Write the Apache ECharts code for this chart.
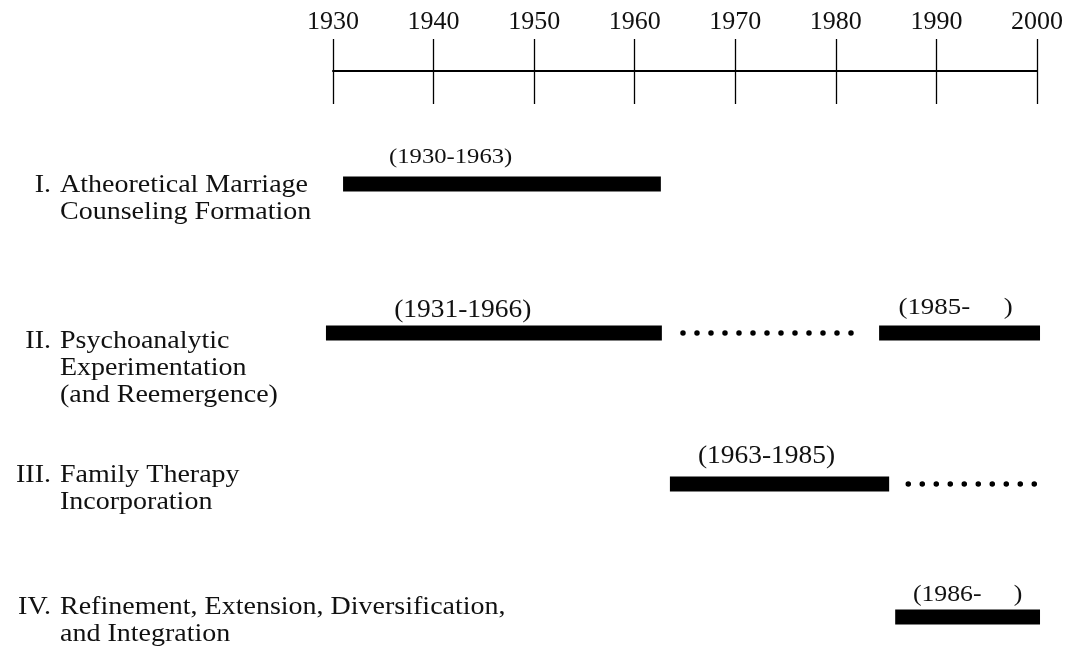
<!DOCTYPE html>
<html><head><meta charset="utf-8">
<script src="https://cdn.jsdelivr.net/npm/echarts/dist/echarts.min.js"></script>
<style>html,body{margin:0;padding:0;background:#fff}#c{width:1070px;height:649px}</style>
</head><body><div id="c"></div>
<script>
// ---- data ----
const stageNumerals = ['I.', 'II.', 'III.', 'IV.'];
const stageNames = [
  'Atheoretical Marriage\nCounseling Formation',
  'Psychoanalytic\nExperimentation\n(and Reemergence)',
  'Family Therapy\nIncorporation',
  'Refinement, Extension, Diversification,\nand Integration'
];
const segStage = [0, 1, 1, 1, 2, 2, 3];
const segStart = [1931.0, 1929.3, 1964.8, 1984.3, 1963.5, 1987.2, 1985.9];
const segEnd   = [1962.6, 1962.7, 1982.6, 2000.3, 1985.3, 2000.0, 2000.3];
const segKind  = ['solid', 'solid', 'dotted', 'solid', 'solid', 'dotted', 'solid'];
const segLabel = ['(1930-1963)', '(1931-1966)', '', '(1985-     )', '(1963-1985)', '', '(1986-     )'];
const segLabelYear = [1941.7, 1942.9, null, 1991.9, 1973.1, null, 1993.1];
const axisMin = 1930, axisMax = 2000, axisStep = 10;

// ---- layout / style ----
const FONT = '"Liberation Serif", "Times New Roman", serif';
const SX = 1.12;
const rowNudge = [0, 4.7, 11.3, 0];
const labelLift = [27, 22, 0, 25, 27, 0, 22];
const labelSize = [22, 24.5, 0, 24, 24.5, 0, 23];
const nameTop = [171.5, 327.5, 461.5, 593.5];
const BAR_H = 15;

const chart = echarts.init(document.getElementById('c'), null, {renderer: 'canvas'});

const segData = segStage.map((s, i) => [s, segStart[i], segEnd[i], i]);

const graphic = [];
stageNames.forEach((name, k) => {
  graphic.push({
    type: 'text', x: 51, y: nameTop[k] + 13.5, scaleX: SX,
    style: {text: stageNumerals[k], align: 'right', verticalAlign: 'middle',
            fontFamily: FONT, fontSize: 25, fill: '#111'}
  });
  graphic.push({
    type: 'text', x: 60, y: nameTop[k], scaleX: SX,
    style: {text: name, align: 'left', verticalAlign: 'top', lineHeight: 27,
            fontFamily: FONT, fontSize: 25, fill: '#111'}
  });
});

chart.setOption({
  backgroundColor: '#fff',
  animation: false,
  grid: [
    {left: 333, right: 33, top: 184, height: 433},
    {left: 333, right: 33, top: 71, height: 33}
  ],
  xAxis: [
    {
      type: 'value', gridIndex: 0, min: axisMin, max: axisMax, interval: axisStep,
      position: 'top', offset: 113,
      axisLine: {show: true, lineStyle: {color: '#000', width: 2}},
      axisTick: {show: true, length: 32, lineStyle: {color: '#000', width: 1.3}},
      axisLabel: {show: true, margin: 36, fontFamily: FONT, fontSize: 26, color: '#111',
                  formatter: function (v) { return String(v); }},
      splitLine: {show: false}
    },
    {
      type: 'value', gridIndex: 1, min: axisMin, max: axisMax, interval: axisStep,
      axisLine: {show: false}, axisTick: {show: false}, axisLabel: {show: false},
      splitLine: {show: true, lineStyle: {color: '#000', width: 1.3}}
    }
  ],
  yAxis: [
    {type: 'category', gridIndex: 0, data: stageNumerals, inverse: true, boundaryGap: false, show: false},
    {type: 'value', gridIndex: 1, show: false}
  ],
  graphic: graphic,
  series: [{
    type: 'custom',
    xAxisIndex: 0, yAxisIndex: 0,
    clip: false,
    encode: {x: [1, 2], y: 0},
    data: segData,
    renderItem: function (params, api) {
      const row = api.value(0);
      const i = api.value(3);
      const p1 = api.coord([api.value(1), row]);
      const p2 = api.coord([api.value(2), row]);
      const y = p1[1] + rowNudge[row];
      const children = [];
      if (segKind[i] === 'solid') {
        children.push({type: 'rect',
          shape: {x: p1[0], y: y - BAR_H / 2, width: p2[0] - p1[0], height: BAR_H},
          style: {fill: '#000'}});
      } else {
        children.push({type: 'line',
          shape: {x1: p1[0], y1: y, x2: p2[0], y2: y},
          style: {stroke: '#000', lineWidth: 5.5, lineDash: [0, 14], lineCap: 'round'}});
      }
      if (segLabel[i]) {
        const lp = api.coord([segLabelYear[i], row]);
        children.push({type: 'text', x: lp[0], y: y - labelLift[i], scaleX: SX,
          style: {text: segLabel[i], align: 'center', verticalAlign: 'middle',
                  fontFamily: FONT, fontSize: labelSize[i], fill: '#111'}});
      }
      return {type: 'group', children: children};
    }
  }]
});
</script>
</body></html>
